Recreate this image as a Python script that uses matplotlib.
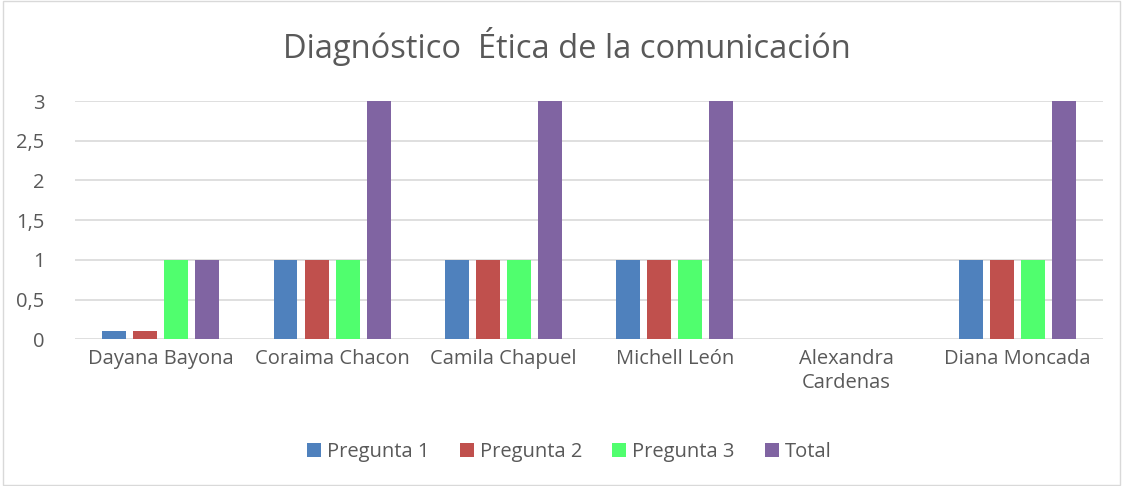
import matplotlib.pyplot as plt
import numpy as np

plt.rcParams['font.family'] = ['Open Sans', 'DejaVu Sans']

nombres = ['Dayana Bayona', 'Coraima Chacon', 'Camila Chapuel', 'Michell León',
           'Alexandra\nCardenas', 'Diana Moncada']
pregunta1 = [0.1, 1, 1, 1, 0, 1]
pregunta2 = [0.1, 1, 1, 1, 0, 1]
pregunta3 = [1, 1, 1, 1, 0, 1]
total = [1, 3, 3, 3, 0, 3]

series = [('Pregunta 1', pregunta1, '#4F81BD'),
          ('Pregunta 2', pregunta2, '#C0504D'),
          ('Pregunta 3', pregunta3, '#50FE6E'),
          ('Total', total, '#8064A2')]

fig = plt.figure(figsize=(11.23, 4.86), dpi=100)
ax = fig.add_axes([0.0668, 0.302, 0.9154, 0.49])

x = np.arange(len(nombres))
ancho = 0.14
paso = 0.181
for i, (nom, vals, col) in enumerate(series):
    ax.bar(x + (i - 1.5) * paso, vals, ancho, color=col, label=nom, zorder=3)

ax.set_xlim(-0.5, len(nombres) - 0.5)
ax.set_ylim(0, 3)
ax.set_yticks([0, 0.5, 1, 1.5, 2, 2.5, 3])
ax.set_yticklabels(['0', '0,5', '1', '1,5', '2', '2,5', '3'])
ax.set_xticks(x)
ax.set_xticklabels(nombres, linespacing=1.3)
ax.grid(axis='y', color='#D9D9D9', linewidth=1.2, zorder=0)
for s in ax.spines.values():
    s.set_visible(False)
ax.tick_params(length=0, labelsize=14.5, colors='#595959', pad=7)
ax.tick_params(axis='y', pad=22)

fig.text(0.505, 0.905, 'Diagnóstico  Ética de la comunicación', ha='center', va='center',
         fontsize=23.5, color='#595959')

fig.legend(loc='center', bbox_to_anchor=(0.507, 0.07), ncol=4, frameon=False,
           fontsize=14.5, labelcolor='#595959', handlelength=0.7, handleheight=0.7,
           handletextpad=0.3, columnspacing=1.5)

borde = plt.Rectangle((0.003, 0.003), 0.994, 0.994, transform=fig.transFigure,
                      fill=False, edgecolor='#D9D9D9', linewidth=1)
fig.patches.append(borde)

fig.savefig('out.png', dpi=100)
